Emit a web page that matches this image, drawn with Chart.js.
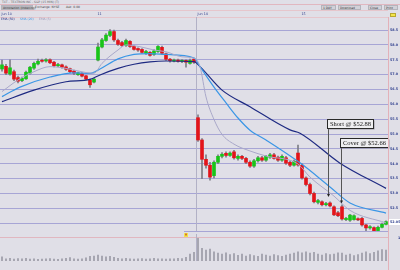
<!DOCTYPE html>
<html lang="en">
<head>
<meta charset="UTF-8" />
<meta name="viewport" content="width=device-width, initial-scale=1.0" />
<title>15 min intraday chart</title>
<script src="https://cdn.jsdelivr.net/npm/chart.js"></script>
<style>
  * { box-sizing: border-box; }
  html, body { margin: 0; padding: 0; }
  body {
    width: 400px; height: 270px; overflow: hidden; position: relative;
    background: #e0dfe7; font-family: 'DejaVu Sans', sans-serif;
  }
  .abs { position: absolute; white-space: nowrap; }
  .title { left: 2px; top: 0; font-size: 3px; line-height: 4px; color: #666; }
  .btn { top: 5px; height: 5px; font-size: 3px; line-height: 4px; color: #333; background: #d2d1d8; border: 1px solid #b5b4bc; padding: 0 1px; }
  .btn.dark { background: #b9b8c0; }
  .txt { top: 5px; font-size: 3px; line-height: 5px; color: #444; }
  .hline { left: 0; height: 1px; background: #e1b7c0; }
  .leg { top: 17px; font-size: 3px; line-height: 5px; }
  #price { left: 0; top: 10px; }
  #vol { left: 0; top: 234px; }
  .vline { left: 388px; top: 17px; width: 1px; height: 253px; background: #e3b1b9; }
</style>
</head>
<body>
  <div class="abs title">TXT - TEXTRON INC - S&amp;P (15 MIN) (T)</div>
  <div class="abs hline" style="top:4px;width:400px"></div>
  <div class="abs btn dark" style="left:1px;width:32px">Annotation (Indexing)</div>
  <div class="abs txt" style="left:35px">Exchange: NYSE</div>
  <div class="abs txt" style="left:66px">Ask: 0.00</div>
  <div class="abs btn" style="left:321px;width:15px">1 DAY</div>
  <div class="abs btn" style="left:338px;width:23px">Download</div>
  <div class="abs btn" style="left:368px;width:14px">Close</div>
  <div class="abs btn" style="left:384px;width:14px">Print</div>
  <div class="abs hline" style="top:10px;width:388px;background:#e6c6cc"></div>
  <div class="abs hline" style="top:17px;width:388px;background:#e6c6cc"></div>
  <div class="abs" style="left:390px;top:13px;width:6px;height:4px;background:#f3e649;border:1px solid #b8a830"></div>

  <canvas id="price" class="abs" width="400" height="227"></canvas>
  <div class="abs hline" style="top:237px;width:388px"></div>
  <canvas id="vol" class="abs" width="400" height="31"></canvas>
  <div class="abs vline"></div>

  <div class="abs leg" style="left:1px;color:#1e2a82">EMA (50)</div>
  <div class="abs leg" style="left:20px;color:#3a96e6">SMA (20)</div>
  <div class="abs leg" style="left:39px;color:#9897b8">EMA (5)</div>

  <script>
    // categories: one bar per 15 minutes, four sessions
    const dayLabels = ['Jun 10', '11', 'Jun 14', '15'];
    const dayStarts = [0, 24, 49, 75];
    const weekBreaks = [48.5];
    const priceTicks = [52.0, 52.5, 53.0, 53.5, 54.0, 54.5, 55.0, 55.5, 56.0, 56.5, 57.0, 57.5, 58.0, 58.5];

    const open = [
      57.19, 57.28, 57.02, 57.10, 56.90, 56.80, 56.86, 57.05, 57.22, 57.36, 57.48, 57.46, 57.50, 57.42, 57.30, 57.33, 57.26, 57.20, 57.12, 57.00, 57.04, 56.96, 56.82, 56.75,
      57.49, 57.93, 58.15, 58.32, 58.45, 58.15, 58.08, 57.98, 58.12, 57.95, 57.88, 57.85, 57.72, 57.75, 57.68, 57.78, 57.92, 57.70, 57.52, 57.46, 57.49, 57.45, 57.48, 57.38, 57.52,
      55.55, 54.80, 54.15, 53.95, 53.60, 54.05, 54.25, 54.35, 54.28, 54.40, 54.18, 54.25, 54.18, 54.05, 53.92, 54.10, 54.20, 54.12, 54.22, 54.30, 54.22, 54.12, 54.20, 54.05, 53.95, 54.36,
      53.95, 53.52, 53.30, 53.00, 52.70, 52.72, 52.62, 52.68, 52.55, 52.35, 52.55, 52.12, 52.10, 52.12, 52.15, 52.16, 51.94, 51.84, 51.85, 51.75, 51.86, 51.96
    ];
    const high = [
      57.49, 57.35, 57.50, 57.15, 56.95, 56.92, 57.12, 57.28, 57.42, 57.52, 57.52, 57.54, 57.53, 57.45, 57.38, 57.36, 57.30, 57.22, 57.15, 57.09, 57.07, 56.98, 56.85, 56.88,
      58.06, 58.22, 58.38, 58.52, 58.50, 58.20, 58.12, 58.20, 58.15, 57.98, 57.90, 57.88, 57.82, 57.78, 57.84, 57.98, 57.96, 57.73, 57.55, 57.52, 57.52, 57.51, 57.50, 57.52, 57.56,
      55.65, 54.85, 54.30, 54.05, 54.10, 54.30, 54.38, 54.40, 54.40, 54.45, 54.30, 54.28, 54.22, 54.10, 54.15, 54.25, 54.25, 54.28, 54.35, 54.35, 54.26, 54.30, 54.25, 54.10, 54.12, 54.63,
      54.00, 53.56, 53.35, 53.05, 52.80, 52.75, 52.70, 52.72, 52.58, 52.40, 52.62, 52.20, 52.30, 52.28, 52.18, 52.20, 51.96, 51.92, 51.88, 51.90, 52.00, 52.08
    ];
    const low = [
      57.12, 57.00, 56.98, 56.80, 56.72, 56.76, 56.84, 57.02, 57.18, 57.33, 57.42, 57.42, 57.37, 57.26, 57.27, 57.22, 57.14, 57.06, 57.00, 56.97, 56.92, 56.82, 56.57, 56.72,
      57.46, 57.90, 58.12, 58.28, 58.12, 57.98, 57.95, 57.95, 57.92, 57.82, 57.78, 57.72, 57.68, 57.62, 57.65, 57.75, 57.68, 57.48, 57.42, 57.43, 57.42, 57.40, 57.25, 57.35, 57.38,
      54.75, 53.50, 53.85, 53.45, 53.52, 54.00, 54.20, 54.22, 54.25, 54.15, 54.12, 54.14, 54.00, 53.88, 53.88, 54.05, 54.08, 54.08, 54.18, 54.15, 54.08, 54.08, 53.98, 53.90, 53.92, 53.92,
      53.48, 53.25, 52.95, 52.68, 52.65, 52.58, 52.58, 52.55, 52.25, 52.22, 52.10, 52.08, 52.06, 52.10, 52.08, 51.90, 51.70, 51.80, 51.68, 51.72, 51.84, 51.94
    ];
    const close = [
      57.33, 57.05, 57.23, 56.85, 56.78, 56.88, 57.08, 57.25, 57.38, 57.45, 57.45, 57.50, 57.40, 57.30, 57.34, 57.25, 57.18, 57.10, 57.05, 57.06, 56.95, 56.85, 56.66, 56.85,
      57.93, 58.17, 58.33, 58.45, 58.17, 58.02, 57.98, 58.15, 57.95, 57.85, 57.83, 57.75, 57.78, 57.65, 57.80, 57.95, 57.72, 57.52, 57.47, 57.49, 57.45, 57.48, 57.42, 57.48, 57.42,
      54.80, 54.15, 53.95, 53.55, 54.05, 54.25, 54.32, 54.28, 54.36, 54.20, 54.25, 54.18, 54.05, 53.92, 54.10, 54.20, 54.12, 54.25, 54.30, 54.18, 54.12, 54.25, 54.02, 53.95, 54.08, 53.96,
      53.52, 53.30, 53.00, 52.72, 52.76, 52.62, 52.66, 52.58, 52.28, 52.25, 52.14, 52.16, 52.27, 52.25, 52.11, 51.94, 51.84, 51.88, 51.72, 51.86, 51.96, 52.05
    ];
    // volume in thousands
    const volume = [
      18, 10, 12, 8, 11, 9, 12, 8, 10, 7, 8, 9, 11, 8, 7, 9, 12, 15, 9, 8, 10, 14, 20, 22,
      26, 22, 18, 20, 16, 12, 10, 12, 9, 8, 10, 11, 8, 9, 12, 10, 9, 8, 10, 9, 12, 11, 16, 30, 38,
      100, 55, 48, 52, 40, 34, 30, 36, 28, 32, 25, 30, 22, 28, 24, 20, 30, 26, 22, 28, 24, 20, 26, 30, 34, 40,
      36, 40, 34, 38, 30, 26, 32, 28, 30, 36, 34, 26, 30, 24, 28, 34, 40, 32, 38, 44, 50, 48
    ];
    const volumeMax = 100;

    // moving averages: [bar, price]
    const ema50 = [[0, 56.09], [8, 56.48], [16, 56.76], [22, 56.84], [24.5, 56.99], [29, 57.21], [33, 57.35], [37, 57.43], [41, 57.46], [48, 57.44],
      [49.5, 57.27], [55, 56.48], [62, 55.92], [72, 55.14], [74.5, 55.03], [84.5, 54.02], [96, 53.17]];
    const sma20 = [[0, 56.26], [4.5, 56.58], [12, 56.92], [18, 57.06], [22, 57.04], [24.5, 57.19], [29, 57.53], [33, 57.68], [37, 57.71], [41, 57.68], [48, 57.56],
      [49.5, 57.27], [53, 56.58], [56, 56.05], [59, 55.54], [62, 55.13], [66, 54.80], [74.5, 54.03], [82, 53.22], [87, 52.68], [96, 52.34]];
    const ema5 = [[0, 56.43], [4, 56.82], [8, 57.10], [12, 57.27], [16, 57.21], [21, 57.07], [23, 57.05], [25, 57.38], [29, 57.83], [31, 58.00], [34.5, 57.94],
      [38, 57.83], [41, 57.77], [45, 57.60], [48, 57.55], [49.5, 57.27], [51, 56.25], [53, 55.49], [55, 54.99], [58, 54.66], [62, 54.43], [66, 54.26],
      [74, 53.99], [77, 53.55], [83, 52.91], [87, 52.43], [96, 52.01]];

    const trades = [
      { text: 'Short @ $52.88', at: 81.6, price: 52.88 },
      { text: 'Cover @ $52.66', at: 84.75, price: 52.66 }
    ];

    const UP = '#19c419', DOWN = '#e3141a';
    const INK = '#2b3c8c';
    const noteLift = [78, 66];

    const xScale = { type: 'linear', min: -0.5, max: open.length - 0.5, display: false, offset: false };

    const priceDecor = {
      id: 'priceDecor',
      beforeDatasetsDraw(chart) {
        const { ctx, chartArea: a, scales: { x } } = chart;
        ctx.save();
        ctx.strokeStyle = '#b2b1c6';
        ctx.lineWidth = 1;
        weekBreaks.forEach(v => {
          const px = Math.round(x.getPixelForValue(v)) + 0.5;
          ctx.beginPath(); ctx.moveTo(px, a.top); ctx.lineTo(px, a.bottom); ctx.stroke();
        });
        ctx.restore();
      },
      afterDraw(chart) {
        const { ctx, chartArea: a, scales: { x, y } } = chart;
        ctx.save();

        // session labels above the plot
        ctx.font = '3.3px "DejaVu Sans"';
        ctx.fillStyle = INK;
        dayStarts.forEach((d, i) => ctx.fillText(dayLabels[i], x.getPixelForValue(d - 0.5) + 1.5, a.top - 2));

        // bottom marker line and flag
        const mx = x.getPixelForValue(45.5);
        ctx.strokeStyle = '#a7a5d5';
        ctx.beginPath(); ctx.moveTo(mx, a.bottom - 0.5); ctx.lineTo(a.right, a.bottom - 0.5); ctx.stroke();
        ctx.fillStyle = '#f1e54a';
        ctx.fillRect(x.getPixelForValue(46) - 2, a.bottom + 1, 4, 4);
        ctx.fillStyle = '#c01010';
        ctx.fillRect(x.getPixelForValue(46) - 0.5, a.bottom + 1.5, 1, 2);

        // trade notes
        ctx.font = '6.5px "Liberation Serif"';
        ctx.textAlign = 'center';
        ctx.textBaseline = 'middle';
        trades.forEach((t, i) => {
          const px = Math.round(x.getPixelForValue(t.at)) + 0.5;
          const py = y.getPixelForValue(t.price);
          const w = Math.round(ctx.measureText(t.text).width) + 5;
          const top = Math.round(py - noteLift[i]) + 0.5;
          ctx.strokeStyle = '#555';
          ctx.lineWidth = 1;
          ctx.beginPath(); ctx.moveTo(px, top + 9); ctx.lineTo(px, py - 2); ctx.stroke();
          ctx.fillStyle = '#222';
          ctx.beginPath(); ctx.moveTo(px - 1.5, py - 3); ctx.lineTo(px + 1.5, py - 3); ctx.lineTo(px, py); ctx.closePath(); ctx.fill();
          ctx.fillStyle = '#9a99a3';
          ctx.fillRect(px, top + 1, w, 9);
          ctx.fillStyle = '#efeff1';
          ctx.fillRect(px - 1, top, w, 9);
          ctx.strokeStyle = '#2a2a2a';
          ctx.strokeRect(px - 1, top, w, 9);
          ctx.fillStyle = '#151515';
          ctx.fillText(t.text, px - 1 + w / 2, top + 4.8);
        });

        // last price tag
        const last = close[close.length - 1];
        const ly = Math.round(y.getPixelForValue(last));
        ctx.fillStyle = '#ffffff';
        ctx.fillRect(a.right + 1, ly - 3, 11, 6);
        ctx.fillStyle = INK;
        ctx.textAlign = 'left';
        ctx.font = 'bold 3.3px "DejaVu Sans"';
        ctx.fillText(last.toFixed(2), a.right + 2, ly + 0.3);
        ctx.restore();
      }
    };

    const lineSet = (label, pts, color, width) => ({
      type: 'line', label, data: pts.map(([x, y]) => ({ x, y })),
      borderColor: color, borderWidth: width, pointRadius: 0,
      cubicInterpolationMode: 'monotone', order: 0
    });

    new Chart(document.getElementById('price'), {
      type: 'bar',
      data: {
        datasets: [
          lineSet('EMA (5)', ema5, '#a9a8c9', 1),
          lineSet('SMA (20)', sma20, '#3a96e6', 1.2),
          lineSet('EMA (50)', ema50, '#1e2a82', 1.2),
          {
            label: 'body',
            data: open.map((o, i) => ({ x: i, y: [o, close[i]] })),
            backgroundColor: close.map((c, i) => c >= open[i] ? UP : DOWN),
            barThickness: 3, minBarLength: 1, grouped: false, order: 1
          },
          {
            label: 'wick',
            data: low.map((l, i) => ({ x: i, y: [l, high[i]] })),
            backgroundColor: '#7d7d86',
            barThickness: 1, grouped: false, order: 2
          }
        ]
      },
      options: {
        responsive: false,
        animation: false,
        devicePixelRatio: 1,
        layout: { padding: { top: 7, bottom: 5, left: 0, right: 0 } },
        plugins: { legend: { display: false }, tooltip: { enabled: false } },
        scales: {
          x: xScale,
          y: {
            position: 'right',
            min: 51.702, max: 58.941,
            afterFit(s) { s.width = 12; },
            afterBuildTicks(s) { s.ticks = priceTicks.map(v => ({ value: v })); },
            grid: { color: '#a7a5d5', drawTicks: false },
            border: { display: false },
            ticks: { font: { size: 3.3, family: 'DejaVu Sans', weight: 'bold' }, color: INK, padding: 2, callback: v => v.toFixed(1) }
          }
        }
      },
      plugins: [priceDecor]
    });

    const volDecor = {
      id: 'volDecor',
      beforeDatasetsDraw(chart) {
        const { ctx, chartArea: a, scales: { x } } = chart;
        ctx.save();
        ctx.strokeStyle = '#b2b1c6';
        weekBreaks.forEach(v => {
          const px = Math.round(x.getPixelForValue(v)) + 0.5;
          ctx.beginPath(); ctx.moveTo(px, a.top - 4); ctx.lineTo(px, a.bottom); ctx.stroke();
        });
        ctx.restore();
      }
    };

    new Chart(document.getElementById('vol'), {
      type: 'bar',
      data: {
        datasets: [{
          label: 'Volume',
          data: volume.map((v, i) => ({ x: i, y: v })),
          backgroundColor: '#9b9aa6',
          barThickness: 1
        }]
      },
      options: {
        responsive: false,
        animation: false,
        devicePixelRatio: 1,
        layout: { padding: { top: 4, bottom: 0, left: 0, right: 0 } },
        plugins: { legend: { display: false }, tooltip: { enabled: false } },
        scales: {
          x: xScale,
          y: {
            position: 'right',
            min: 0, max: volumeMax,
            afterFit(s) { s.width = 12; },
            afterBuildTicks(s) { s.ticks = [{ value: volumeMax }]; },
            grid: { display: false },
            border: { display: false },
            ticks: { font: { size: 3.3, family: 'DejaVu Sans', weight: 'bold' }, color: INK, padding: 2, callback: v => v + 'K' }
          }
        }
      },
      plugins: [volDecor]
    });
  </script>
</body>
</html>
